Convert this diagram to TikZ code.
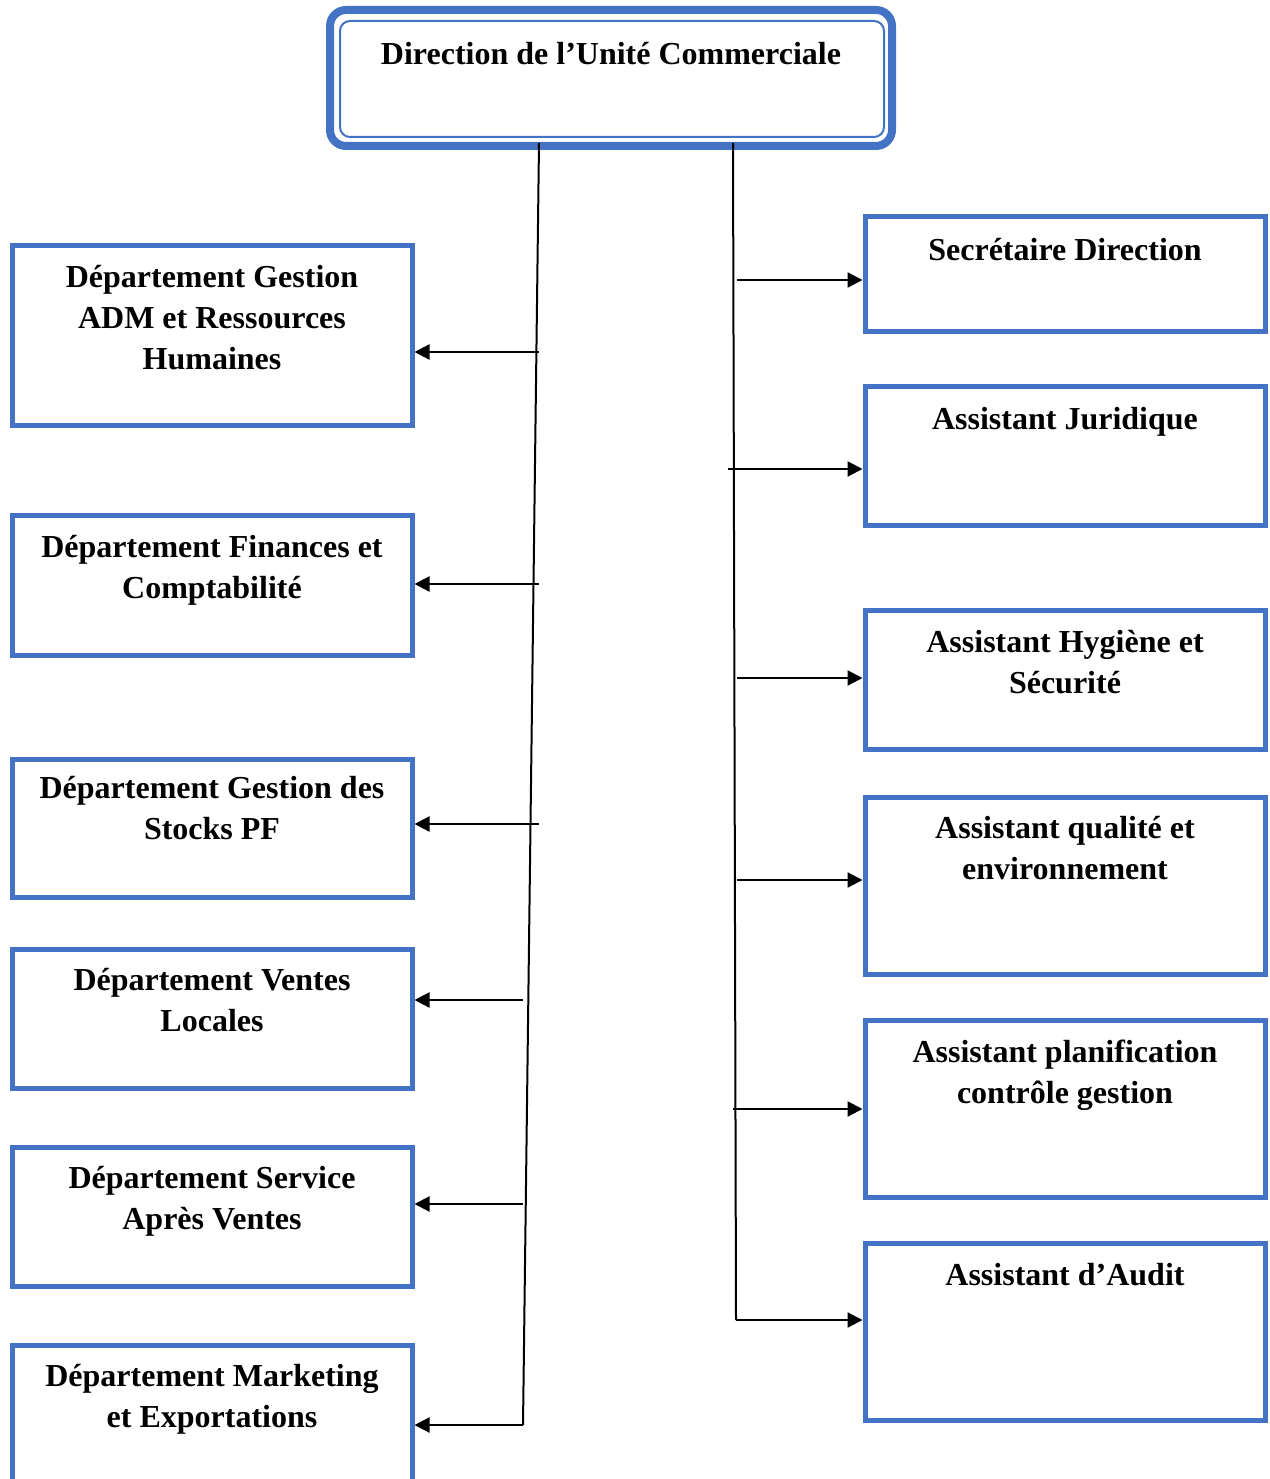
\documentclass[tikz,border=0pt]{standalone}
\usepackage{fontspec}
\setmainfont{Liberation Serif}
\usetikzlibrary{arrows.meta,calc}
\definecolor{boxblue}{HTML}{4472C4}
\tikzset{
  box/.style={draw=boxblue, line width=5pt, minimum width=400pt, inner sep=0pt, anchor=north, fill=none},
  txt/.style={anchor=base, align=center, inner sep=0pt, font=\bfseries\fontsize{32}{41}\selectfont},
  arr/.style={draw=black, line width=2.2pt, -{Triangle[length=15pt,width=15pt]}},
  trunk/.style={draw=black, line width=2pt}
}
\begin{document}
\begin{tikzpicture}[x=1pt,y=-1pt]
\useasboundingbox (0,0) rectangle (1269,1479);
% top box
\draw[boxblue, line width=8pt, rounded corners=16pt] (330,10) rectangle (892,146);
\node[draw=boxblue, line width=2pt, rounded corners=10pt, minimum width=544pt, minimum height=116pt, inner sep=0pt, anchor=north west] (top) at (339,20) {};
\node[txt] (ttop) at (611,65) {Direction de l’Unité Commerciale};
% left boxes
\node[box, minimum height=180pt] (L1) at (212,243) {};
\node[box, minimum height=140pt] (L2) at (212,513) {};
\node[box, minimum height=138pt] (L3) at (212,757) {};
\node[box, minimum height=139pt] (L4) at (212,947) {};
\node[box, minimum height=139pt] (L5) at (212,1145) {};
\node[box, minimum height=150pt] (L6) at (212,1343) {};
% base anchor = baseline of last line
\node[txt] (tL1) at (212,369) {Département Gestion\\ADM et Ressources\\Humaines};
\node[txt] (tL2) at (212,598) {Département Finances et\\Comptabilité};
\node[txt] (tL3) at (212,839) {Département Gestion des\\Stocks PF};
\node[txt] (tL4) at (212,1031) {Département Ventes\\Locales};
\node[txt] (tL5) at (212,1229) {Département Service\\Après Ventes};
\node[txt] (tL6) at (212,1427) {Département Marketing\\et Exportations};
% right boxes
\node[box, minimum height=115pt] (R1) at (1065,214) {};
\node[box, minimum height=139pt] (R2) at (1065,384) {};
\node[box, minimum height=139pt] (R3) at (1065,608) {};
\node[box, minimum height=177pt] (R4) at (1065,795) {};
\node[box, minimum height=177pt] (R5) at (1065,1018) {};
\node[box, minimum height=177pt] (R6) at (1065,1241) {};
\node[txt] (tR1) at (1065,260) {Secrétaire Direction};
\node[txt] (tR2) at (1065,429) {Assistant Juridique};
\node[txt] (tR3) at (1065,693) {Assistant Hygiène et\\Sécurité};
\node[txt] (tR4) at (1065,879) {Assistant qualité et\\environnement};
\node[txt] (tR5) at (1065,1103) {Assistant planification\\contrôle gestion};
\node[txt] (tR6) at (1065,1285) {Assistant d’Audit};
% left trunk
\coordinate (lt) at (539,143);
\coordinate (lb) at (523,1425);
\draw[trunk] (lt) -- (lb);
\coordinate (a1) at (539,352);
\coordinate (a2) at (539,584);
\coordinate (a3) at (539,824);
\coordinate (a4) at (523,1000);
\coordinate (a5) at (523,1204);
\draw[arr] (a1) -- (a1 -| L1.east);
\draw[arr] (a2) -- (a2 -| L2.east);
\draw[arr] (a3) -- (a3 -| L3.east);
\draw[arr] (a4) -- (a4 -| L4.east);
\draw[arr] (a5) -- (a5 -| L5.east);
\draw[arr] (lb) -- (lb -| L6.east);
% right trunk
\coordinate (rt) at (733,143);
\coordinate (rb) at (736,1320);
\draw[trunk] (rt) -- (rb);
\coordinate (b1) at (737,280);
\coordinate (b2) at (728,469);
\coordinate (b3) at (737,678);
\coordinate (b4) at (737,880);
\coordinate (b5) at (733,1109);
\draw[arr] (b1) -- (b1 -| R1.west);
\draw[arr] (b2) -- (b2 -| R2.west);
\draw[arr] (b3) -- (b3 -| R3.west);
\draw[arr] (b4) -- (b4 -| R4.west);
\draw[arr] (b5) -- (b5 -| R5.west);
\draw[arr] (rb) -- (rb -| R6.west);
\end{tikzpicture}
\end{document}
